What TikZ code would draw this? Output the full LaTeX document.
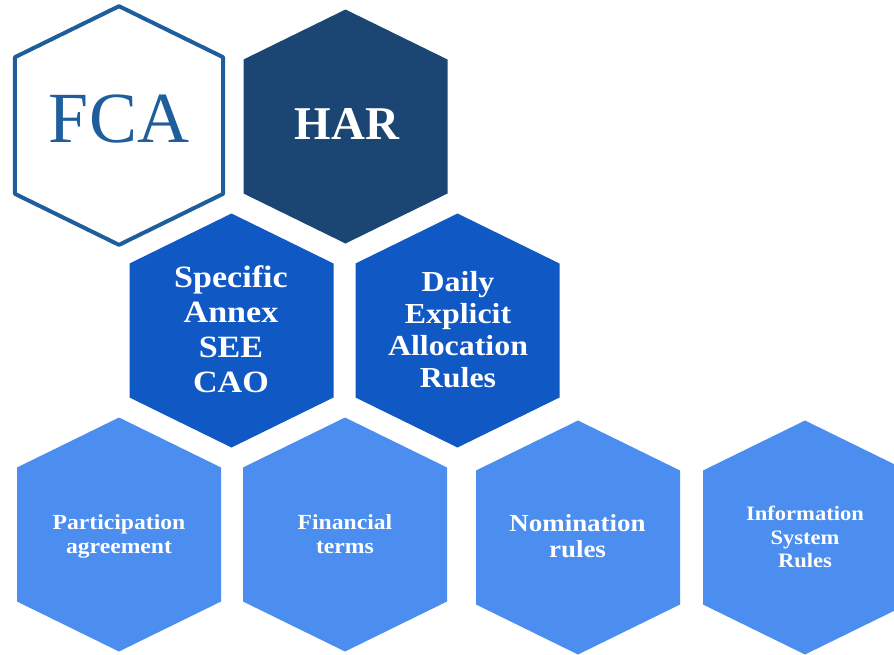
\documentclass[tikz,border=0pt]{standalone}
\usepackage{fontspec}
\setmainfont{Liberation Serif}
\newfontfamily\widefont[FakeStretch=1.1]{Liberation Serif}
\definecolor{fcablue}{HTML}{1F5E9C}
\definecolor{harnavy}{HTML}{1B4673}
\definecolor{midblue}{HTML}{1058C4}
\definecolor{lowblue}{HTML}{4B8EEF}
\tikzset{
  hexfca/.style={draw=fcablue, line width=4pt, line join=round, fill=white},
  hexhar/.style={fill=harnavy},
  hexmid/.style={fill=midblue},
  hexlow/.style={fill=lowblue},
  hextext/.style={text=white, align=center, inner sep=0pt}
}
% pointy-top hexagon round a named coordinate
\newcommand{\hexat}[2]{\path[#1] (#2) ++(0,-117) -- ++(102,50) -- ++(0,134)
  -- ++(-102,50) -- ++(-102,-50) -- ++(0,-134) -- cycle;}
\begin{document}
\begin{tikzpicture}[x=1pt,y=-1pt]
      \useasboundingbox (0,0) rectangle (894,654);
      \clip (0,0) rectangle (894,654);
      \path
        (119,125.5) coordinate (fca)
        (345.5,126.5) coordinate (har)
        (231.5,330.5) coordinate (annex)
        (457.5,330.5) coordinate (daily)
        (119,534.5) coordinate (part)
        (345,534.5) coordinate (fin)
        (578,537.5) coordinate (nom)
        (805,537.5) coordinate (info);
      \hexat{hexfca, scale=1.02}{fca}
      \hexat{hexhar}{har}
      \hexat{hexmid}{annex}
      \hexat{hexmid}{daily}
      \begin{scope}
        \hexat{hexlow}{part}
        \hexat{hexlow}{fin}
        \hexat{hexlow}{nom}
        \hexat{hexlow}{info}
      \end{scope}
      \node[text=fcablue, inner sep=0pt, font=\fontsize{72}{72}\selectfont]
        (fcatext) at (119,119) {FCA};
      \node[hextext, font=\fontsize{47}{47}\selectfont\bfseries]
        (hartext) at (347,123.5) {HAR};
      \node[hextext, font=\widefont\fontsize{31}{35}\selectfont\bfseries]
        (annextext) at (231,329) {Specific\\Annex\\SEE\\CAO};
      \node[hextext, font=\widefont\fontsize{29}{32}\selectfont\bfseries]
        (dailytext) at (458,330) {Daily\\Explicit\\Allocation\\Rules};
      \node[hextext, font=\widefont\fontsize{21.5}{24}\selectfont\bfseries]
        (parttext) at (119,536) {Participation\\agreement};
      \node[hextext, font=\widefont\fontsize{21.5}{24}\selectfont\bfseries]
        (fintext) at (345,534) {Financial\\terms};
      \node[hextext, font=\widefont\fontsize{24.5}{26}\selectfont\bfseries]
        (nomtext) at (577.5,536) {Nomination\\rules};
      \node[hextext, font=\widefont\fontsize{20.5}{23.5}\selectfont\bfseries]
        (infotext) at (805,537) {Information\\System\\Rules};
    \end{tikzpicture}
\end{document}
